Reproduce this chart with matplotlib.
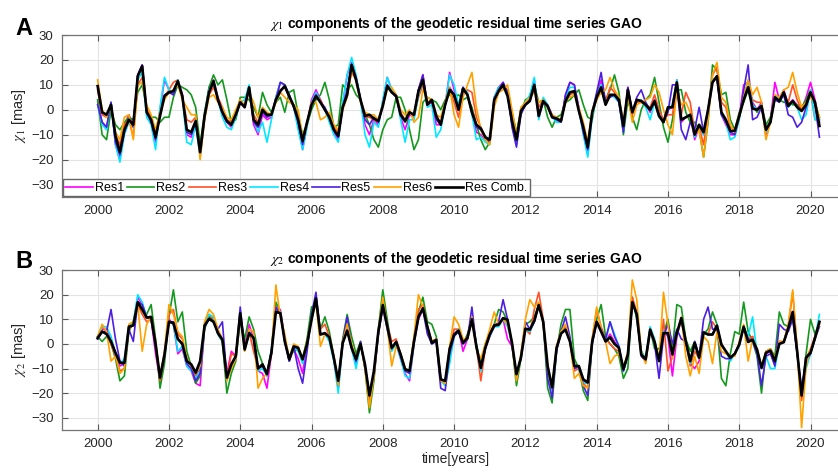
import matplotlib
matplotlib.use('Agg')
import matplotlib.pyplot as plt
import numpy as np

plt.rcParams['font.family'] = ['Liberation Sans', 'DejaVu Sans']
plt.rcParams['mathtext.fontset'] = 'stix'

# sampling grid (years), one value every 1.5 months
years = np.linspace(2000, 2020.25, 163)

names = ['Res1', 'Res2', 'Res3', 'Res4', 'Res5', 'Res6']
colors = ['#ff00ff', '#14991e', '#ff5226', '#00e8ff', '#4d1fe0', '#ffa200']

# ---- chi_1 [mas]
a_res1 = [3, -5, -7, 3, -14, -20, -6, -2, -6, 14,
          18, 0, -5, -13, 0, 12, 8, 6, 12, 6,
          -10, -11, -5, -18, -3, 9, 12, 5, -2, -5,
          -7, -3, 3, 2, 9, -6, -10, -2, -4, -3,
          5, 11, 10, 6, 1, -6, -16, -6, 4, 8,
          4, 0, -4, -9, -12, 2, 14, 19, 13, 4,
          -6, -10, -4, -6, 3, 13, 8, 6, -3, -8,
          -2, -3, 8, 14, 2, 3, -6, -6, 2, 15,
          8, 1, 9, 6, -1, -9, -10, -12, -13, 5,
          9, 11, 6, -5, -13, -1, 3, 5, 12, -3,
          4, 2, -2, -4, -5, 6, 11, 10, 1, -9,
          -18, -2, 6, 12, 3, 6, 6, 4, -7, 9,
          -1, 4, 4, 2, -1, 4, -2, -5, 0, 1,
          12, -5, -3, -2, -12, -7, -10, 0, 12, 13,
          -2, -6, -10, -10, -3, 10, 11, 3, 0, 3,
          -11, -4, 11, 4, 8, 2, 4, 2, 0, 5,
          11, 4, -5]
a_res2 = [4, -10, -12, 0, -6, -8, -5, -3, -4, 7,
          10, 1, -3, -3, -5, -3, -3, 5, 10, 9,
          8, 6, 1, -14, -1, 9, 14, 10, 12, 4,
          -5, -4, 5, 5, 4, 1, -3, 7, 2, -1,
          3, 5, -1, 7, 8, -2, -10, -6, 0, 4,
          6, 11, 4, -7, -6, 10, 8, 10, 6, 4,
          -2, -6, -12, -15, -8, -4, -3, 5, 5, 0,
          -8, -16, -12, 3, 5, 4, 3, 0, 4, 6,
          5, 6, 4, 5, 1, -6, -12, -16, -13, 4,
          9, 10, 7, -1, -9, -1, 4, 5, 10, 3,
          4, -3, -7, -3, -2, 3, 4, 6, 8, 2,
          -3, -4, 6, 8, 4, 8, 14, 7, -10, 4,
          -3, -8, 0, 4, 6, 13, 3, -7, -13, -4,
          8, 8, -1, -5, -5, -8, -19, -5, 18, 16,
          6, 7, -4, -8, -1, 3, 8, 2, -1, 2,
          -6, -3, 5, 4, 3, 3, 2, 2, 1, 4,
          8, 2, -3]
a_res3 = [8, -2, -3, 2, -10, -14, -6, -4, -11, 10,
          13, 1, -3, -9, -1, 5, 8, 11, 12, 5,
          -4, -5, -3, -17, -2, 6, 9, 5, 1, -4,
          -5, -1, 4, 1, 8, -2, -5, 0, -3, -2,
          4, 8, 9, 5, 2, -3, -12, -5, 3, 6,
          4, 0, -2, -7, -9, 1, 6, 15, 12, 4,
          -3, -3, -4, -5, 2, 10, 8, 5, -1, -4,
          -1, -3, 5, 10, 3, 4, -3, -5, 3, 8,
          3, -3, 7, 8, 7, -3, -7, -11, -13, 3,
          8, 9, 8, -2, -11, 0, 2, 4, 10, 1,
          4, 1, -3, -4, -4, 3, 6, 7, 0, -6,
          -14, -1, 4, 8, 3, 9, 7, 4, -6, 7,
          -2, 3, 3, 2, 1, 6, 0, -4, -2, -2,
          8, -2, 7, 3, -9, -7, -14, -1, 14, 17,
          3, 1, -7, -8, -2, 5, 9, 4, 3, 3,
          -9, -4, 5, 4, 6, 3, 10, 4, 0, 2,
          7, -4, -4]
a_res4 = [2, -6, -8, 3, -14, -21, -10, -5, -7, 12,
          15, -3, -6, -16, 1, 13, 8, 7, 12, 5,
          -13, -14, -6, -19, -3, 8, 11, 4, -3, -7,
          -8, -3, 3, 4, 10, -4, -9, -5, -13, -4,
          5, 11, 10, 6, 1, -8, -16, -7, 3, 7,
          3, 0, -5, -10, -13, 3, 14, 21, 14, 4,
          -10, -15, -5, -7, 4, 13, 8, 6, -4, -13,
          -4, -4, 6, 12, 1, 2, -11, -8, 2, 14,
          10, 2, 9, 7, -2, -12, -11, -13, -14, 5,
          9, 10, 6, -6, -14, -1, 3, 6, 13, -4,
          5, 2, -3, -5, -5, 5, 9, 9, 0, -10,
          -19, -3, 6, 10, 2, 6, 5, 3, -9, 8,
          -1, 4, 4, 1, -4, 3, -3, -5, 0, 2,
          12, -4, -3, -2, -11, -6, -10, 0, 12, 13,
          -2, -5, -12, -11, -4, 6, 12, 2, 0, 2,
          -9, -5, 6, 4, 7, 1, 3, 1, -4, -2,
          8, -4, -4]
a_res5 = [2, -5, -7, 3, -13, -18, -9, -4, -7, 14,
          18, -1, -5, -12, -2, 6, 7, 6, 11, 6,
          -9, -10, -5, -17, -3, 7, 11, 4, -1, -5,
          -6, -2, 3, 1, 9, -5, -7, -1, -3, -2,
          4, 11, 10, 5, 1, -5, -14, -5, 2, 6,
          3, 1, -3, -8, -11, 1, 8, 18, 13, 4,
          -4, -6, -3, -5, 2, 10, 7, 5, -2, -5,
          -1, -2, 8, 14, 2, 4, -4, -6, 2, 9,
          6, 0, 9, 6, -1, -7, -8, -11, -13, 4,
          8, 11, 7, -7, -15, -2, 2, 4, 10, -2,
          3, 1, -3, -4, -5, 6, 11, 10, 0, -9,
          -16, -1, 7, 15, 3, 5, 6, 3, -9, 9,
          -1, 5, 8, 3, 0, 3, -2, -5, -1, 10,
          10, -8, -12, -5, -8, 1, -9, -1, 11, 13,
          -2, -5, -9, -10, -3, 8, 18, -4, -3, 1,
          -8, -5, 4, 3, 6, -2, -3, -7, -5, 1,
          7, 2, -11]
a_res6 = [12, 0, -3, 2, -9, -12, -3, -2, -12, 10,
          11, 2, -2, -8, -1, 4, 7, 8, 10, 4,
          1, -2, -2, -20, -4, 5, 6, 3, 1, -3,
          -4, 0, 4, 2, 7, 3, -3, 1, -1, -2,
          3, 7, 5, 3, 2, 0, -11, -6, 3, 3,
          -4, -3, -1, -6, -8, 0, 5, 16, 12, 3,
          -1, -2, -2, -4, 2, 8, 9, 6, 0, -2,
          0, -5, -3, 8, 5, 4, -2, -3, 3, 9,
          -2, -7, 5, 10, 15, 1, -8, -12, -14, 1,
          7, 8, 10, 0, -10, 1, 3, 5, 7, 3,
          4, 1, -2, -3, -4, 4, 5, 6, 1, -5,
          -13, 0, 4, 7, 8, 13, 8, 5, -5, 6,
          -5, 2, 3, 4, 5, 10, 7, 0, -6, -10,
          8, 2, 3, -1, -10, -8, -19, -4, 14, 19,
          5, 3, -6, -9, -3, 5, 12, 6, 9, 3,
          -12, -5, 6, 5, 8, 9, 15, 7, 1, 3,
          5, 3, -3]
a_comb = [9.5, -1, -2, 2, -10.5, -17, -8, -4, -6, 13.5,
          17.5, -1, -4, -11, -2.5, 5.5, 7, 7.5, 11.5, 5.5,
          -8, -9, -4.5, -17, -2.5, 7, 11.5, 4, -1, -4.5,
          -6, -2, 3, 1, 9, -4, -6, 0, -2, -2,
          4, 7.5, 9.5, 5.5, 1.5, -4, -12.5, -5, 2, 5.5,
          3, 0, -3, -8, -10.5, 1, 6, 18, 12, 4,
          -2.5, -2, -3.5, -4.5, 1.5, 9.5, 7, 5.5, -2, -4.5,
          -1, -2, 7.5, 12, 2, 4, -2.5, -6, 2, 8,
          6, 0, 8.5, 6, -1, -6, -7.5, -11, -12, 4,
          7.5, 10, 5.5, -4.5, -12, -0.5, 2, 3.5, 10, -2.5,
          3.5, 1.5, -3, -3.5, -4.5, 3.5, 7, 7.5, -0.5, -7,
          -15, -1, 5, 9, 2, 6, 6, 4, -6.5, 8,
          -1, 4, 3.5, 2, 0, 3.5, -2.5, -5, 1, 1,
          11, -4, -3, -2, -10, -6, -9, 0, 11, 13.5,
          -1, -4, -8.5, -8.5, -2.5, 4, 9, 0.5, 0, 1.5,
          -8, -5, 5, 3.5, 7, 1.5, 3.5, 1, -0.5, 2,
          7, 3, -6.5]

# ---- chi_2 [mas]
b_res1 = [2, 6, 6, 2, -4, -9, -8, 6, 8, 19,
          16, 11, 10, -4, -15, -5, 10, 8, -4, -2,
          -9, -11, -16, -17, 7, 11, 10, 4, 1, -12,
          -3, -5, 12, -1, 8, 2, -11, -12, -18, -4,
          14, 14, 2, -7, -2, -6, -12, 0, 10, 19,
          4, 4, 3, -6, -18, 0, 6, -2, -8, 0,
          -9, -22, -14, 4, 15, 6, -2, 0, -6, -12,
          -15, 0, 10, 14, 7, 0, 2, -15, -16, -3,
          4, 6, -3, 2, 10, -1, -10, -2, 3, 7,
          8, 10, 2, -1, -13, -6, 6, 5, 9, 16,
          9, -10, -19, -2, 4, 6, 1, -10, -10, -15,
          -16, 1, 9, 6, 1, 4, 1, -2, -11, -4,
          17, 12, -4, -7, 5, 1, -7, 5, 3, -13,
          3, 10, 1, -8, -10, -7, 5, 4, 4, 7,
          0, -3, -6, -4, 0, 7, 1, 3, -3, -10,
          -4, -3, -7, 0, 1, 6, 13, -3, -21, -6,
          -3, 3, 9]
b_res2 = [3, 1, 3, 0, -6, -15, -13, 5, 9, 15,
          14, 12, 16, 2, -18, -8, 11, 22, 9, 13,
          -3, -9, -16, -13, 6, 11, 10, 4, 1, -20,
          -12, -7, 10, 2, 11, 6, -3, -8, -12, -3,
          17, 13, 1, -5, -3, -2, -6, 2, 15, 16,
          6, 11, 5, -5, -16, 2, 12, 3, -4, 1,
          -10, -28, -15, 6, 22, 10, -2, 1, -4, -10,
          -11, 2, 13, 19, 9, 8, 3, -14, -16, -2,
          4, 5, 0, 4, 10, 0, -9, 0, 4, 8,
          14, 13, 9, 0, -17, -6, 8, 9, 11, 16,
          9, -18, -24, -3, 8, 14, 14, -6, -10, -19,
          -23, 0, 10, 16, 3, 0, -2, -5, -14, -10,
          19, 10, -3, -6, 6, -2, -2, 4, 10, -2,
          16, 15, 2, -3, 1, -5, 4, 6, 13, 8,
          -14, -17, -4, 5, 4, 17, 5, 1, -5, -20,
          -3, -2, -5, 13, 8, 7, 12, -4, -21, -4,
          10, 4, 8]
b_res3 = [3, 7, 5, 0, -5, -11, -10, 6, 8, 16,
          12, 9, 10, -1, -15, -5, 12, 14, 4, 2,
          -6, -9, -13, -10, 8, 12, 10, 5, 2, -14,
          -4, -5, 12, -2, 5, -3, -10, -9, -13, -4,
          15, 13, 2, -7, -1, -2, -7, 0, 10, 18,
          6, 8, 3, -5, -16, 1, 6, -1, -6, 0,
          -9, -23, -13, 5, 17, 8, 1, 2, -4, -10,
          -11, 2, 14, 16, 7, 1, 2, -15, -16, -2,
          6, 6, 1, 3, 10, -1, -15, -2, 4, 8,
          8, 10, 8, 0, -14, -5, 6, 4, 14, 21,
          10, -10, -19, -1, 5, 7, 2, -11, -10, -16,
          -18, 2, 14, 7, 2, 0, -2, -3, -10, -4,
          19, 13, -4, -7, 6, 1, -7, 10, -11, -5,
          4, 10, 1, -9, -3, -6, 5, 4, 9, 6,
          0, -3, -6, -4, 0, 7, 2, 3, -3, -10,
          -3, -3, -6, 1, 1, 7, 21, -2, -23, -6,
          -2, 3, 9]
b_res4 = [3, 7, 7, 3, -4, -8, -6, 7, 9, 20,
          17, 11, 10, 0, -14, -4, 9, 8, -3, -1,
          -9, -11, -14, -11, 7, 12, 11, 4, 1, -15,
          -9, -6, 13, -2, 5, 2, -11, -10, -13, -2,
          14, 13, 1, -7, -1, -3, -8, 0, 10, 19,
          4, 4, 1, -7, -20, 0, 6, -2, -10, 0,
          -9, -21, -12, 4, 16, 6, -3, 0, -6, -13,
          -14, 0, 11, 14, 7, 0, 2, -15, -17, -8,
          3, 6, 0, 2, 11, 0, -11, -1, 3, 7,
          7, 10, 7, 0, -13, -6, 6, 5, 9, 16,
          9, -11, -19, -2, 5, 6, 1, -9, -10, -16,
          -16, 1, 9, 6, 1, 9, 4, -1, -11, -4,
          17, 12, -3, -6, 7, 2, -7, 5, 4, -4,
          4, 10, 1, -8, 0, -6, 5, 4, 4, 8,
          0, -3, -7, -4, -1, 7, 3, 11, -4, -10,
          -5, -10, -10, 0, 1, 6, 13, -3, -20, -10,
          -4, 2, 12]
b_res5 = [2, 5, 5, 14, 2, -7, -9, 6, 1, 17,
          16, 11, 10, -1, -14, -5, 9, 9, 2, 0,
          -8, -10, -15, -12, 7, 10, 9, 6, 9, -14,
          -9, -6, 15, -2, 4, 3, -10, -9, -12, -3,
          15, 12, 1, -7, -1, -10, -16, -3, 12, 21,
          4, 4, 3, -6, -17, 1, 11, -1, -7, 1,
          -10, -20, -12, 4, 15, 8, -2, 1, -5, -11,
          -12, 1, 11, 14, 4, 0, 1, -18, -19, -4,
          3, 5, 0, 2, 15, -1, -10, -2, 4, 7,
          9, 18, 10, 0, -13, -5, 9, 6, 9, 16,
          9, -14, -22, -3, 5, 11, 3, -10, -9, -17,
          -21, 0, 9, 6, 2, 9, 3, -1, -11, -5,
          17, 12, -5, -7, 6, 0, -14, 3, 8, 0,
          6, 2, 1, -7, 1, -5, 10, 15, 6, 6,
          -5, -6, -6, -4, 0, 7, 2, 1, -4, -17,
          -5, -4, -9, 8, 6, 5, 10, -4, -18, -7,
          -4, 2, 7]
b_res6 = [3, 8, 5, -7, -5, -12, -10, 8, 9, 16,
          -3, 8, 11, 1, -14, -3, 16, 12, 5, 3,
          -6, -9, -12, -9, 9, 14, 12, 6, 2, -15,
          -10, -6, 12, -3, 6, 5, -18, -14, -12, -4,
          24, 11, 4, -6, 0, -1, -6, 1, 10, 17,
          -1, 4, 3, -5, -17, 1, 8, 0, -6, 0,
          -10, -26, -13, 5, 19, 7, -9, -1, -4, -10,
          -11, 3, 20, 15, 7, 1, 2, -15, -16, -1,
          11, 8, 2, 2, 11, -2, -6, 0, 6, 13,
          8, 10, 8, 1, -15, -4, 10, 18, 15, 17,
          8, -10, -18, -1, 5, 8, 1, -14, -12, -17,
          -18, 2, 15, 6, 1, -8, -5, -4, -10, -3,
          26, 18, -3, -8, 6, 1, -6, 21, 8, -6,
          4, 11, -5, -13, -5, -12, 3, 1, -8, 5,
          -3, -4, -5, -5, 1, 8, -7, 2, -2, -9,
          -3, -2, -6, 1, 1, 8, 22, -2, -34, -9,
          -2, 2, 8]
b_comb = [2.4, 5, 4, 1, -3.6, -7.7, -7.7, 7, 7.5, 17,
          14, 10.7, 11, 0, -13.7, -4.3, 9, 8.5, 2, 0,
          -7, -8.3, -11.7, -7, 7.5, 10.2, 9, 4.4, 1.7, -13.7,
          -8.3, -5, 12.5, -2.3, 4.4, 2.4, -10, -8.3, -12.3, -3.6,
          13, 12.5, 1, -6.3, -1, -1.6, -6.3, 0, 9.8, 18.5,
          3.8, 4.4, 2.7, -5.6, -15, 0.4, 5.4, -1.6, -6.3, 0,
          -8.3, -21, -11, 5, 15.8, 7, -1.6, 0.8, -4.3, -10.3,
          -11, 1, 11, 14.5, 7, 0.4, 1.7, -14.4, -15, -2,
          3.8, 5.4, 0.4, 2.4, 10, -1, -9.7, -1.6, 3.8, 7.5,
          7.8, 10.5, 9.8, 0.4, -12.3, -5.6, 6.2, 5.8, 9.4, 15.8,
          9, -9, -17.7, -1.6, 4.2, 5.8, 1, -9, -9, -14.4,
          -15.7, 1, 9, 5, 1, 2.7, 0, -1.6, -10.3, -4.3,
          17, 12, -4.3, -6.3, 5.8, 0.8, -7, 4.4, 4.4, -4.3,
          4.4, 10.5, 1, -7, 0.4, -5.6, 4.7, 3.8, 3.8, 7.5,
          -0.3, -3, -5.6, -4, -0.3, 7, 0.8, 1.7, -2.3, -9.7,
          -3.6, -2.7, -7, 0, 0.7, 6.4, 13, -3, -21, -5.6,
          -3.6, 2.4, 9]


def draw_panel(ax, series, comb, comp, legend=False):
    for vals, name, col in zip(series, names, colors):
        ax.plot(years, vals, color=col, lw=1.2, label=name)
    ax.plot(years, comb, color='k', lw=1.9, label='Res Comb.')

    ax.set_xlim(1999, 2021.1)
    ax.set_ylim(-35, 30)
    ax.set_xticks(range(2000, 2021, 2))
    ax.set_yticks(range(-30, 31, 10))
    ax.grid(True, color='#e3e3e3', lw=0.8)
    ax.set_axisbelow(True)
    ax.tick_params(direction='in', top=True, right=True, length=4,
                   color='0.35', labelcolor='0.15', labelsize=9.5, pad=6)
    for sp in ax.spines.values():
        sp.set_color('0.45')
        sp.set_linewidth(0.9)

    ax.set_title(r'$\chi_%d$ components of the geodetic residual time series GAO' % comp,
                 fontsize=10, fontweight='bold', pad=5)
    ax.set_ylabel(r'$\chi_%d$ [mas]' % comp, fontsize=10.5, color='0.15', labelpad=2)

    if legend:
        ax.legend(loc='lower left', ncol=7, fontsize=9, fancybox=False,
                  edgecolor='0.4', framealpha=1, handlelength=2.2,
                  handletextpad=0.15, columnspacing=0.25, borderpad=0.2,
                  borderaxespad=0.05)


fig = plt.figure(figsize=(8.38, 4.73), dpi=100)
ax1 = fig.add_axes([0.074, 0.5835, 0.94, 0.3425])
ax2 = fig.add_axes([0.074, 0.0909, 0.94, 0.338])

draw_panel(ax1, [a_res1, a_res2, a_res3, a_res4, a_res5, a_res6], a_comb, 1, legend=True)
draw_panel(ax2, [b_res1, b_res2, b_res3, b_res4, b_res5, b_res6], b_comb, 2)
ax2.set_xlabel('time[years]', fontsize=10, color='0.15', labelpad=1)

fig.text(0.018, 0.926, 'A', fontsize=17, fontweight='bold')
fig.text(0.018, 0.433, 'B', fontsize=17, fontweight='bold')

fig.savefig('out.png', dpi=100)
